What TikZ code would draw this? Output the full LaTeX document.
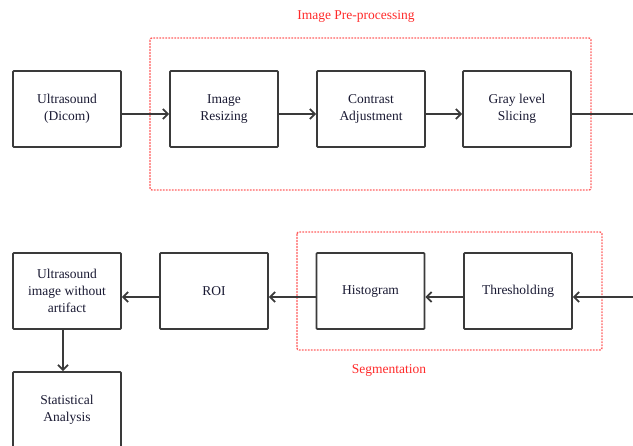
\documentclass[tikz,border=0pt]{standalone}
\usepackage{fontspec}
\setmainfont{Liberation Serif}
\usetikzlibrary{positioning,arrows.meta}
\definecolor{boxline}{HTML}{3A3A3A}
\definecolor{textcol}{HTML}{1A1A33}
\definecolor{grpred}{HTML}{FF6060}
\definecolor{lblred}{HTML}{FF2A2A}
\tikzset{
  block/.style={draw=boxline, line width=1.8pt, rounded corners=0.8pt, fill=white,
    minimum width=108pt, minimum height=76pt, align=center, text=textcol,
    font=\fontsize{13.5}{17}\selectfont, inner sep=2pt},
  flow/.style={draw=boxline, line width=1.8pt, -{Straight Barb[length=5pt,width=10pt,line width=1.8pt]}},
  grp/.style={draw=grpred, line width=1.4pt, dash pattern=on 1.8pt off 1.2pt, rounded corners=2pt},
  grplabel/.style={text=lblred, font=\fontsize{13.5}{15}\selectfont}
}
\begin{document}
\begin{tikzpicture}[x=1pt,y=-1pt]
  \useasboundingbox (0,0) rectangle (633,446);
  \clip (0,0) rectangle (633,446);
  % groups
  \draw[grp] (150,38) rectangle (591,190);
  \node[grplabel] (pretitle) at (356,16) {Image Pre-processing};
  \draw[grp] (297,232) rectangle (602,350);
  \node[grplabel] (segtitle) at (389,370) {Segmentation};
  % top row
  \node[block] (dicom) at (67,109) {Ultrasound\\(Dicom)};
  \node[block] (resize) at (224,109) {Image\\Resizing};
  \node[block] (contrast) at (371,109) {Contrast\\Adjustment};
  \node[block] (slicing) at (517,109) {Gray level\\Slicing};
  \coordinate (outR) at (636,114);
  % bottom row
  \node[block] (artifact) at (67,291) {Ultrasound\\image without\\artifact};
  \node[block] (roi) at (214,291) {ROI};
  \node[block] (histo) at (370.5,291) {Histogram};
  \node[block] (thresh) at (518,291) {Thresholding};
  \node[block] (stats) at (67,410) {Statistical\\Analysis};
  \coordinate (inR) at (636,297);
  % arrows
  \draw[flow] ([yshift=-5pt]dicom.east) -- ([yshift=-5pt]resize.west);
  \draw[flow] ([yshift=-5pt]resize.east) -- ([yshift=-5pt]contrast.west);
  \draw[flow] ([yshift=-5pt]contrast.east) -- ([yshift=-5pt]slicing.west);
  \draw[draw=boxline, line width=1.8pt] ([yshift=-5pt]slicing.east) -- (outR);
  \draw[flow] (inR) -- ([yshift=-6pt]thresh.east);
  \draw[flow] ([yshift=-6pt]thresh.west) -- ([yshift=-6pt]histo.east);
  \draw[flow] ([yshift=-6pt]histo.west) -- ([yshift=-6pt]roi.east);
  \draw[flow] ([yshift=-6pt]roi.west) -- ([yshift=-6pt]artifact.east);
  \draw[flow] ([xshift=-4pt]artifact.south) -- ([xshift=-4pt]stats.north);
\end{tikzpicture}
\end{document}
